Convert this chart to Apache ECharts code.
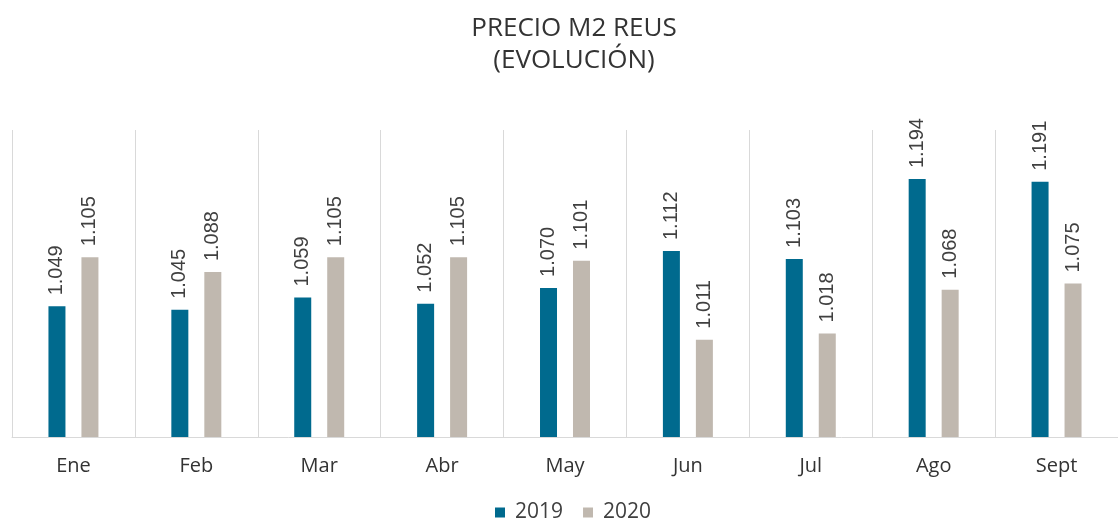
<!DOCTYPE html>
<html><head><meta charset="utf-8">
<script src="https://cdn.jsdelivr.net/npm/echarts@6/dist/echarts.min.js"></script>
<style>html,body{margin:0;padding:0;background:#fff}#c{width:1118px;height:520px}</style>
</head><body><div id="c"></div>
<script>
const categories = ['Ene','Feb','Mar','Abr','May','Jun','Jul','Ago','Sept'];
const values2019 = [1049,1045,1059,1052,1070,1112,1103,1194,1191];
const values2020 = [1105,1088,1105,1105,1101,1011,1018,1068,1075];
const seriesNames = ['2019','2020'];

const fmt = v => { const s = String(v); return s.length > 3 ? s.slice(0, s.length-3) + '.' + s.slice(-3) : s; };
const labelCfg = {
  show: true, position: 'top', rotate: 90, align: 'left', verticalAlign: 'middle',
  distance: 11, color: '#404040', fontSize: 20, fontFamily: 'Liberation Sans',
  formatter: p => fmt(p.value)
};
const chart = echarts.init(document.getElementById('c'));
chart.setOption({
  animation: false,
  title: {
    text: 'PRECIO M2 REUS\n(EVOLUCIÓN)', left: 569, textAlign: 'center', top: 8,
    textStyle: { fontFamily: 'Open Sans', fontWeight: 'normal', fontSize: 26, color: '#333', lineHeight: 32 }
  },
  legend: {
    top: 497, left: 490, itemWidth: 10, itemHeight: 10, itemGap: 20,
    icon: 'rect',
    textStyle: { fontFamily: 'Open Sans', fontSize: 21, color: '#404040', padding: [0, 0, 0, 5] },
    data: seriesNames
  },
  grid: { left: 12, right: -6, top: 130, bottom: 83 },
  xAxis: {
    type: 'category', data: categories,
    axisLine: { lineStyle: { color: '#d9d9d9', width: 1 } },
    axisTick: { show: false },
    splitLine: { show: true, lineStyle: { color: '#d9d9d9' } },
    axisLabel: { fontFamily: 'Open Sans', fontSize: 20, color: '#333', margin: 19 }
  },
  yAxis: { type: 'value', min: 900, max: 1250, show: false, splitLine: { show: false } },
  series: [
    { name: seriesNames[0], type: 'bar', data: values2019, barWidth: 17, barGap: '94%',
      itemStyle: { color: '#006a8e' }, label: labelCfg },
    { name: seriesNames[1], type: 'bar', data: values2020, barWidth: 17,
      itemStyle: { color: '#c0b8af' }, label: labelCfg }
  ]
});
</script></body></html>
